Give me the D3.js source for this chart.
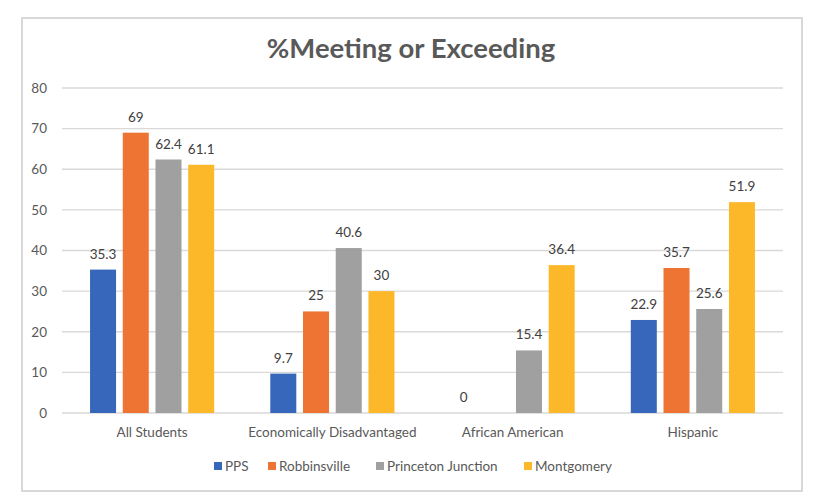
<!DOCTYPE html>
<html>
<head>
<meta charset="utf-8">
<script src="https://cdn.jsdelivr.net/npm/d3@7"></script>
<style>
  html, body { margin: 0; padding: 0; background: #ffffff; }
  svg { display: block; font-family: Lato, "Open Sans", sans-serif; }
</style>
</head>
<body>
<svg id="chart" width="825" height="503"></svg>
<script>
const categories = ["All Students", "Economically Disadvantaged", "African American", "Hispanic"];
const seriesNames = ["PPS", "Robbinsville", "Princeton Junction", "Montgomery"];
const ppsValues = [35.3, 9.7, 0, 22.9];
const robbinsvilleValues = [69, 25, null, 35.7];
const princetonJunctionValues = [62.4, 40.6, 15.4, 25.6];
const montgomeryValues = [61.1, 30, 36.4, 51.9];
const yTicks = [0, 10, 20, 30, 40, 50, 60, 70, 80];
const colors = ["#3767bb", "#ee7434", "#a0a0a0", "#fdb829"];
const title = "%Meeting or Exceeding";

const seriesValues = [ppsValues, robbinsvilleValues, princetonJunctionValues, montgomeryValues];

const svg = d3.select("#chart");

// chart border
svg.append("rect")
  .attr("x", 22).attr("y", 18).attr("width", 780).attr("height", 473)
  .attr("fill", "#ffffff").attr("stroke", "#d9d9d9").attr("stroke-width", 2);

// title
svg.append("text")
  .attr("x", 411).attr("y", 58)
  .attr("text-anchor", "middle")
  .attr("font-size", 27.5).attr("font-weight", "bold")
  .attr("fill", "#595959")
  .text(title);

const plot = { left: 62, right: 783, top: 88, bottom: 413 };

const y = d3.scaleLinear().domain([0, 80]).range([plot.bottom, plot.top]);
const x0 = d3.scaleBand().domain(categories).range([plot.left, plot.right])
  .paddingInner(0.274).paddingOuter(0.137);
const x1 = d3.scaleBand().domain(seriesNames).range([0, x0.bandwidth()])
  .paddingInner(0.205).paddingOuter(0.1025);

// gridlines
svg.append("g").selectAll("line").data(yTicks).join("line")
  .attr("x1", plot.left).attr("x2", plot.right)
  .attr("y1", d => y(d)).attr("y2", d => y(d))
  .attr("stroke", "#d9d9d9").attr("stroke-width", 1.3);

// y axis
const yAxis = d3.axisLeft(y).tickValues(yTicks).tickSize(0).tickPadding(15);
const yg = svg.append("g").attr("transform", `translate(${plot.left},0)`).call(yAxis);
yg.select(".domain").remove();
yg.selectAll("text").attr("font-size", 13.5).attr("fill", "#595959")
  .attr("font-family", "Lato, 'Open Sans', sans-serif");

// x axis labels
const xAxis = d3.axisBottom(x0).tickSize(0).tickPadding(14);
const xg = svg.append("g").attr("transform", `translate(0,${plot.bottom})`).call(xAxis);
xg.select(".domain").remove();
xg.selectAll("text").attr("font-size", 13.5).attr("fill", "#595959")
  .attr("font-family", "Lato, 'Open Sans', sans-serif");

// bars
const rows = [];
categories.forEach((c, ci) => {
  seriesNames.forEach((s, si) => {
    rows.push({ cat: c, series: s, si, value: seriesValues[si][ci] });
  });
});

const barsG = svg.append("g");
barsG.selectAll("rect").data(rows.filter(d => d.value !== null)).join("rect")
  .attr("x", d => x0(d.cat) + x1(d.series))
  .attr("y", d => y(d.value))
  .attr("width", x1.bandwidth())
  .attr("height", d => y(0) - y(d.value))
  .attr("fill", d => colors[d.si]);

// data labels
barsG.selectAll("text").data(rows.filter(d => d.value !== null)).join("text")
  .attr("x", d => x0(d.cat) + x1(d.series) + x1.bandwidth() / 2)
  .attr("y", d => y(d.value) - 11)
  .attr("text-anchor", "middle")
  .attr("font-size", 13.5).attr("fill", "#404040")
  .text(d => String(d.value));

// legend
const legendX = [214, 268, 376, 524];
const legend = svg.append("g");
seriesNames.forEach((s, i) => {
  legend.append("rect")
    .attr("x", legendX[i]).attr("y", 462).attr("width", 8).attr("height", 8)
    .attr("fill", colors[i]);
  legend.append("text")
    .attr("x", legendX[i] + 11).attr("y", 471)
    .attr("font-size", 13.5).attr("fill", "#595959")
    .text(s);
});
</script>
</body>
</html>
